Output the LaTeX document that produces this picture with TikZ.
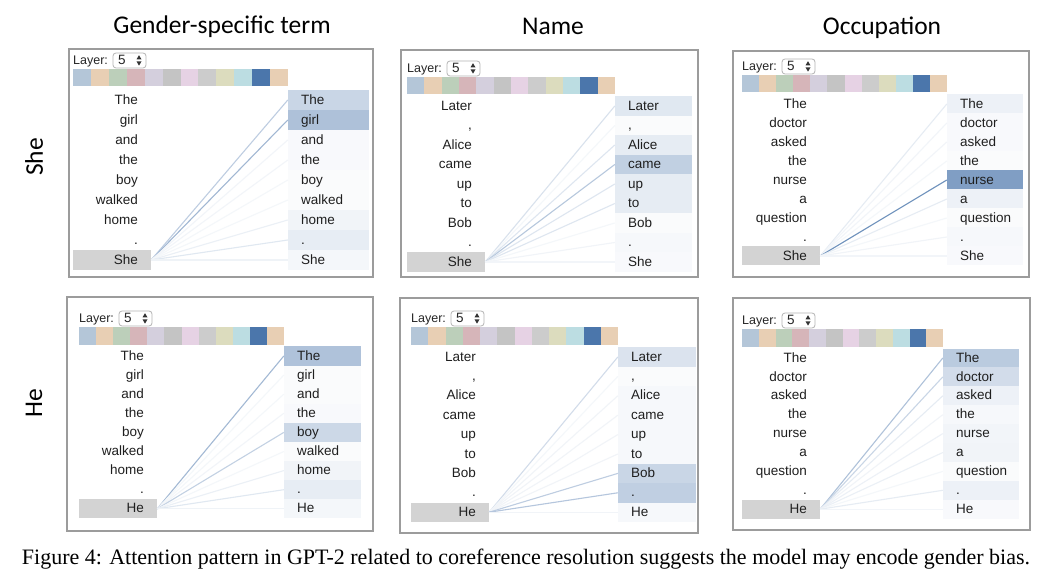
\documentclass[tikz,border=0pt]{standalone}
\usepackage{fontspec}
\setmainfont{Liberation Sans}
\newfontfamily\titlefont{Carlito}
\newfontfamily\capfont{Liberation Serif}
\definecolor{attn}{HTML}{4A75AB}
\definecolor{h1}{HTML}{B4C6D8}
\definecolor{h2}{HTML}{E8CFB4}
\definecolor{h3}{HTML}{BCCFBA}
\definecolor{h4}{HTML}{D6B5B9}
\definecolor{h5}{HTML}{D4CFDD}
\definecolor{h6}{HTML}{C4C4C4}
\definecolor{h7}{HTML}{E6D2E4}
\definecolor{h8}{HTML}{CCCCCC}
\definecolor{h9}{HTML}{DCDCBE}
\definecolor{h10}{HTML}{BCDDE2}
\definecolor{h11}{HTML}{4B76AB}
\definecolor{h12}{HTML}{E8CFB4}
\definecolor{bordgray}{HTML}{9C9C9C}
\definecolor{selgray}{HTML}{B4B4B4}
\definecolor{leftgray}{HTML}{D3D3D3}
\tikzset{
  panelborder/.style={draw=bordgray, line width=1.3pt},
  laylabel/.style={inner sep=0pt, font=\fontsize{12.5}{14}\selectfont, text=black!85},
  selbox/.style={draw=selgray, fill=white, rounded corners=3pt, line width=0.8pt, inner sep=0pt},
  word/.style={inner sep=0pt, font=\fontsize{13.5}{16}\selectfont, text=black!88},
  rbox/.style={inner sep=0pt, draw=none},
  lbox/.style={inner sep=0pt, draw=none, fill=leftgray},
  attnline/.style={line width=1.1pt},
  coltitle/.style={font=\titlefont\fontsize{25.5}{28}\selectfont, inner sep=0pt, anchor=base},
  rowtitle/.style={font=\titlefont\fontsize{25.5}{28}\selectfont, inner sep=0pt, rotate=90},
}
% #1 id, #2 list word/weight(percent)
\newcommand{\drawpanel}[2]{%
  \draw[panelborder] \pbord;
  \node[laylabel, anchor=mid west] (#1lay) at (\pA, \pT-7.5) {Layer:};
  \node[selbox, minimum width=33pt, minimum height=15pt] (#1sel) at (\pA+56.5, \pT-8.5) {};
  \node[laylabel, anchor=mid west, font=\fontsize{13.5}{14}\selectfont] (#1five) at (\pA+45, \pT-7.5) {5};
  \fill[black!80] (\pA+63.5,\pT-9.6) -- (\pA+68.5,\pT-9.6) -- (\pA+66,\pT-13.8) -- cycle;
  \fill[black!80] (\pA+63.5,\pT-7.6) -- (\pA+68.5,\pT-7.6) -- (\pA+66,\pT-3.4) -- cycle;
  \pgfmathsetmacro\cw{(\pB-\pA)/12}
  \foreach \k in {1,...,12} {
    \fill[h\k] (\pA+\k*\cw-\cw, \pT) rectangle ++(\cw, 17.5);
  }
  \pgfmathsetmacro\rw{\pC-\pB}
  \pgfmathsetmacro\ylast{\pY+8*\pD+1}
  \node[lbox, minimum width=78pt, minimum height=\pD pt] (#1L) at (\pA+39, \ylast) {};
  \foreach \w/\a [count=\i from 0] in {#2} {
    \pgfmathsetmacro\yy{\pY+\i*\pD+1}
    \node[rbox, minimum width=\rw pt, minimum height=\pD pt, fill=attn!\a] (#1R\i) at (\pB+\rw/2, \yy) {};
  }
  \foreach \w/\a [count=\i from 0] in {#2} {
    \pgfmathtruncatemacro\la{min(100,\a*1.1+3)}
    \draw[attnline, draw=attn!\la] (#1L.east) -- (#1R\i.west);
  }
  \foreach \w/\a [count=\i from 0] in {#2} {
    \pgfmathsetmacro\yy{\pY+\i*\pD+2.5}
    \node[word, anchor=mid west] (#1Rt\i) at (\pB+13, \yy) {\w};
    \node[word, anchor=mid east] (#1Lt\i) at (\pA+65, \yy) {\w};
  }
}
\begin{document}
\begin{tikzpicture}[x=1pt, y=-1pt]
\useasboundingbox (0,0) rectangle (1050,580);
\fill[white] (0,0) rectangle (1050,580);

\node[coltitle] (tgen) at (222,34) {Gender-specific term};
\node[coltitle] (tname) at (553,34.5) {Name};
\node[coltitle] (tocc) at (882,34.5) {Occupation};
\node[rowtitle] (tshe) at (34,157) {She};
\node[rowtitle] (the) at (34,403) {He};

% Panel 1
\def\pbord{(69,49) rectangle (373,277)}
\def\pA{73}\def\pB{288}\def\pC{369}\def\pT{69}\def\pY{99}\def\pD{20}
\drawpanel{pa}{The/30,girl/45,and/4,the/4,boy/3,walked/3,home/8,./13,She/6}

% Panel 2
\def\pbord{(401,50) rectangle (698,277)}
\def\pA{407}\def\pB{615}\def\pC{692}\def\pT{77}\def\pY{105}\def\pD{19.5}
\drawpanel{pb}{Later/17,{,}/3,Alice/14,came/34,up/14,to/14,Bob/3,./5,She/4}

% Panel 3
\def\pbord{(733,51) rectangle (1029,277)}
\def\pA{742}\def\pB{947}\def\pC{1023}\def\pT{75}\def\pY{103}\def\pD{19}
\drawpanel{pc}{The/10,doctor/4,asked/4,the/3,nurse/70,a/10,question/3,./5,She/4}

% Panel 4
\def\pbord{(67,297) rectangle (373,531)}
\def\pA{79}\def\pB{284}\def\pC{361}\def\pT{327}\def\pY{355}\def\pD{19.1}
\drawpanel{pd}{The/44,girl/3,and/3,the/4,boy/28,walked/3,home/8,./13,He/6}

% Panel 5
\def\pbord{(400,298) rectangle (698,533)}
\def\pA{411}\def\pB{618}\def\pC{696}\def\pT{327}\def\pY{356}\def\pD{19.4}
\drawpanel{pe}{Later/20,{,}/3,Alice/5,came/5,up/5,to/5,Bob/30,./35,He/5}

% Panel 6
\def\pbord{(733,298) rectangle (1030,530)}
\def\pA{742}\def\pB{943}\def\pC{1019}\def\pT{329}\def\pY{357}\def\pD{18.9}
\drawpanel{pf}{The/38,doctor/25,asked/10,the/5,nurse/7,a/8,question/3,./10,He/4}

\node[inner sep=0pt, anchor=base] (cap) at (526,564) {\resizebox{1008pt}{15.5pt}{\capfont\fontsize{20}{24}\selectfont Figure 4: Attention pattern in GPT-2 related to coreference resolution suggests the model may encode gender bias.}};
\end{tikzpicture}
\end{document}
